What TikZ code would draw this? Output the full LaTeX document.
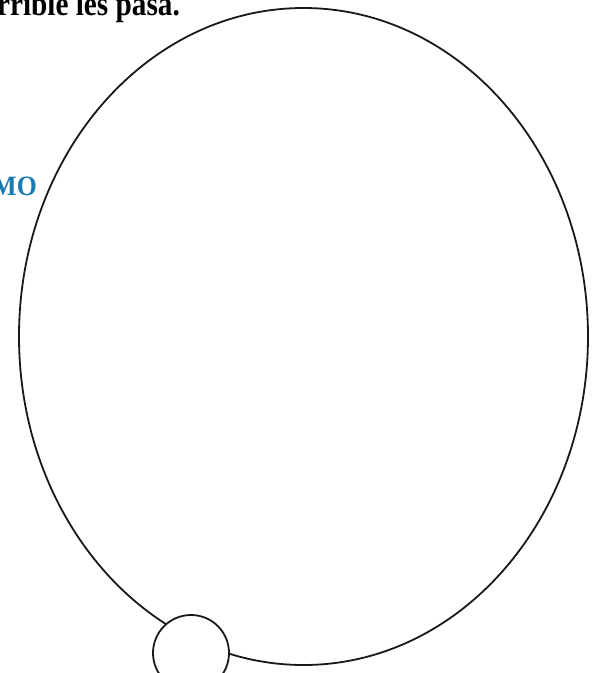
\documentclass[tikz,border=0pt]{standalone}
\usepackage{fontspec}
\setmainfont{Liberation Serif}
\usetikzlibrary{shapes.geometric}
\definecolor{titleblue}{RGB}{26,122,180}
\begin{document}
\begin{tikzpicture}[x=1pt,y=-1pt,
  outline/.style={draw=black!90,line width=1.8pt},
  bigtext/.style={font=\fontsize{34}{40}\selectfont\bfseries,inner sep=0pt},
  bluetext/.style={font=\fontsize{28}{33}\selectfont\bfseries,text=titleblue,inner sep=0pt}]
\useasboundingbox (0,0) rectangle (599,673);
\fill[white] (0,0) rectangle (599,673);
\node[bigtext,anchor=base east] (title) at (180,15) {\scalebox{0.86}[1]{rrible les pasa.}};
\node[bluetext,anchor=base east] (mo) at (37,195) {\scalebox{0.92}[1]{MO}};
\node[outline,ellipse,minimum width=569pt,minimum height=657pt,inner sep=0pt] (big) at (303.5,336.5) {};
\node[outline,circle,fill=white,minimum size=76pt,inner sep=0pt] (small) at (191,653) {};
\end{tikzpicture}
\end{document}
